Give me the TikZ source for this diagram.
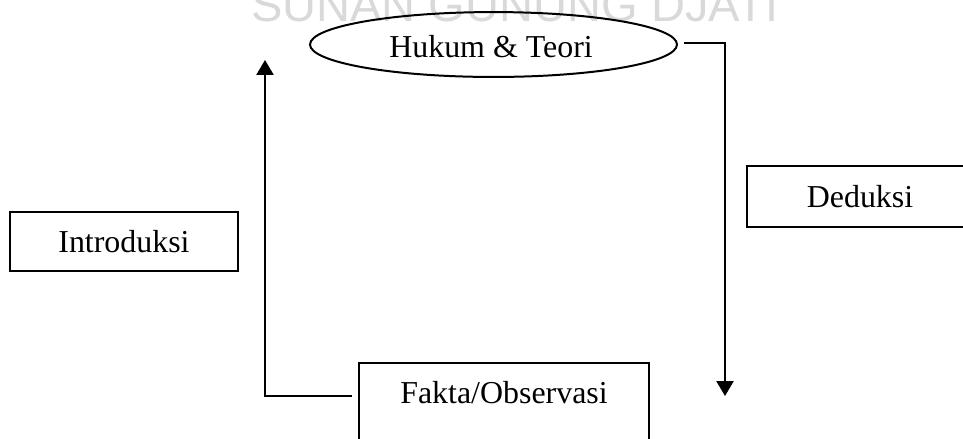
\documentclass[tikz,border=0pt]{standalone}
\usepackage{fontspec}
\setmainfont{Liberation Serif}
\newfontfamily\wmfont{Liberation Sans}
\usetikzlibrary{shapes.geometric,arrows.meta,calc}
\begin{document}
\begin{tikzpicture}[x=0.376pt,y=-0.376pt, line width=0.75pt,
  box/.style={draw, rectangle, inner sep=0pt, font=\fontsize{12}{14}\selectfont},
  lbl/.style={inner sep=0pt, font=\fontsize{12}{14}\selectfont},
  arr/.style={-{Triangle[width=6.4pt,length=5.6pt]}}]
\useasboundingbox (0,0) rectangle (963,438);
\clip (0,0) rectangle (963,438);
% watermark
\node[anchor=base west, text=black!15, inner sep=0pt,
      font=\wmfont\fontsize{17.7}{20}\selectfont] (wm) at (250,21) {SUNAN GUNUNG DJATI};
% nodes
\node[draw, ellipse, minimum width=138pt, minimum height=24.4pt] (ht) at (493.5,44.5) {};
\node[lbl, anchor=base] (htt) at (491,57) {Hukum \& Teori};
\node[box, minimum width=85pt, minimum height=22.9pt] (dd) at (860,196.5) {Deduksi};
\node[box, minimum width=85.7pt, minimum height=22.2pt] (in) at (124,241.5) {Introduksi};
\node[box, minimum width=109pt, minimum height=36.5pt] (fk) at (504,411.5) {};
\node[lbl, anchor=base] (fkt) at (504,403) {Fakta/Observasi};
% connectors
\coordinate (dtip) at (725,396);
\coordinate (itip) at (265,60);
\draw[arr] ($(ht.east)+(6,-2)$) -| (dtip);
\draw[arr] ($(fk.north west)+(-6,34)$) -| (itip);
\end{tikzpicture}
\end{document}
